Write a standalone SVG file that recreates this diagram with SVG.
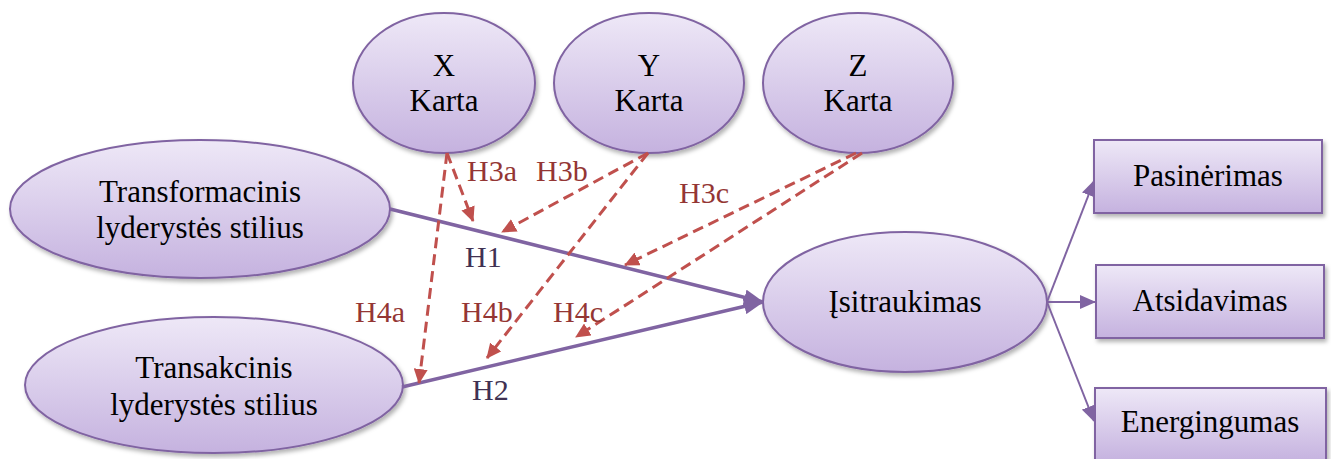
<svg xmlns="http://www.w3.org/2000/svg" width="1331" height="459" viewBox="0 0 1331 459">
<defs>
<linearGradient id="g" x1="0" y1="0" x2="0" y2="1">
<stop offset="0" stop-color="#eee8f7"/>
<stop offset="1" stop-color="#c5b2df"/>
</linearGradient>
<filter id="sh" x="-10%" y="-10%" width="125%" height="130%">
<feDropShadow dx="2" dy="3" stdDeviation="2" flood-color="#000" flood-opacity="0.3"/>
</filter>
<marker id="ar" markerUnits="userSpaceOnUse" markerWidth="15" markerHeight="14" refX="14" refY="7" orient="auto">
<path d="M0,0 L15,7 L0,14 z" fill="#c0504d"/>
</marker>
<marker id="ap" markerUnits="userSpaceOnUse" markerWidth="20" markerHeight="16" refX="19" refY="8" orient="auto">
<path d="M0,0 L20,8 L0,16 z" fill="#8064a2"/>
</marker>
<marker id="apt" markerUnits="userSpaceOnUse" markerWidth="16" markerHeight="14" refX="15" refY="7" orient="auto">
<path d="M0,0 L16,7 L0,14 z" fill="#8064a2"/>
</marker>
</defs>
<style>
.n{fill:url(#g);stroke:#8064a2;stroke-width:2;filter:url(#sh)}
text{font-family:'Liberation Serif','Times New Roman',serif}
.t{font-size:31px;fill:#000;text-anchor:middle}
.l{font-size:30px;fill:#943634}
.lp{font-size:30px;fill:#403152}
.d{stroke:#c0504d;stroke-width:3;stroke-dasharray:11 6;fill:none;marker-end:url(#ar)}
.p{stroke:#8064a2;stroke-width:3.5;fill:none;marker-end:url(#ap)}
.pt{stroke:#8064a2;stroke-width:2;fill:none;marker-end:url(#apt)}
</style>
<rect width="1331" height="459" fill="#fff"/>
<g id="X"><ellipse class="n" cx="444" cy="83" rx="91" ry="70"/><text class="t" x="444" y="76">X</text><text class="t" x="444" y="111">Karta</text></g>
<g id="Y"><ellipse class="n" cx="649" cy="83" rx="95" ry="70"/><text class="t" x="649" y="76">Y</text><text class="t" x="649" y="111">Karta</text></g>
<g id="Z"><ellipse class="n" cx="858" cy="83" rx="95" ry="70"/><text class="t" x="858" y="76">Z</text><text class="t" x="858" y="111">Karta</text></g>
<g id="transformacinis"><ellipse class="n" cx="200" cy="209" rx="190" ry="69"/><text class="t" x="200" y="202">Transformacinis</text><text class="t" x="200" y="238">lyderystės stilius</text></g>
<g id="transakcinis"><ellipse class="n" cx="214" cy="385" rx="189" ry="68"/><text class="t" x="214" y="378">Transakcinis</text><text class="t" x="214" y="415">lyderystės stilius</text></g>
<g id="isitraukimas"><ellipse class="n" cx="905" cy="302" rx="142" ry="70"/><text class="t" x="905" y="312">Įsitraukimas</text></g>
<g id="pasinerimas"><rect class="n" x="1094" y="140" width="228" height="73"/><text class="t" x="1208" y="186">Pasinėrimas</text></g>
<g id="atsidavimas"><rect class="n" x="1096" y="265" width="228" height="73"/><text class="t" x="1210" y="311">Atsidavimas</text></g>
<g id="energingumas"><rect class="n" x="1095" y="388" width="231" height="74"/><text class="t" x="1210" y="432">Energingumas</text></g>
<g id="connectors">
<path class="p" d="M390,209 L763,302"/>
<path class="p" d="M402,387 L763,302"/>
<path class="pt" d="M1047,302 L1094,181"/>
<path class="pt" d="M1047,302 L1095,302"/>
<path class="pt" d="M1047,302 L1094,421"/>
<path class="d" d="M447,153 L473,221"/>
<path class="d" d="M447,153 L419,383"/>
<path class="d" d="M648,153 L502,232"/>
<path class="d" d="M648,153 L487,358"/>
<path class="d" d="M856,153 L625,265"/>
<path class="d" d="M862,153 L576,337"/>
</g>
<g id="labels">
<text class="l" x="467" y="181">H3a</text>
<text class="l" x="536" y="181">H3b</text>
<text class="l" x="679" y="203">H3c</text>
<text class="lp" x="465" y="267">H1</text>
<text class="l" x="355" y="322">H4a</text>
<text class="l" x="461" y="322">H4b</text>
<text class="l" x="553" y="322">H4c</text>
<text class="lp" x="472" y="400">H2</text>
</g>
</svg>
